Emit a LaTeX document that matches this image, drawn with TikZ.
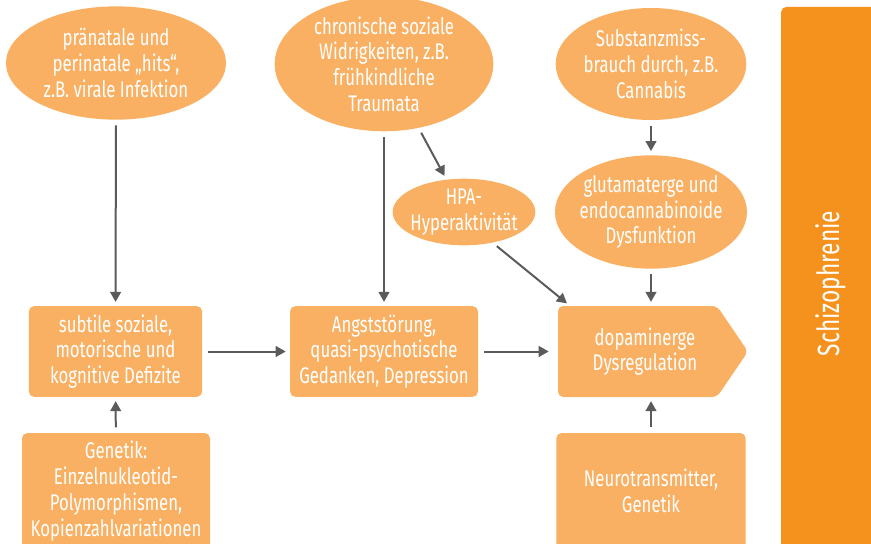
\documentclass[tikz,border=0pt]{standalone}
\usepackage{fontspec}
\setmainfont{Fira Sans}[FakeStretch=0.74]
\usetikzlibrary{arrows.meta, shapes.geometric}
\definecolor{lightorange}{HTML}{F9B062}
\definecolor{darkorange}{HTML}{F5921E}
\definecolor{arrowgray}{HTML}{5B5B5B}

\begin{document}
\begin{tikzpicture}[x=0.75pt, y=-0.75pt,
    bubble/.style={ellipse, fill=lightorange, text=white, inner sep=0pt, align=center,
        font=\fontsize{17}{19.3}\selectfont},
    box/.style={rectangle, rounded corners=4pt, fill=lightorange, text=white, inner sep=0pt,
        align=center, font=\fontsize{17}{19.3}\selectfont},
    arr/.style={-{Triangle[length=7.5pt, width=8pt]}, draw=arrowgray, line width=1.5pt,
        shorten <=4pt, shorten >=3pt}]
            \clip (0,0) rectangle (871,543);

            % Ursachen oben
            \node[bubble, minimum width=165pt, minimum height=85pt] (hits) at (116, 63)
                {pränatale und\\perinatale „hits“,\\z.B. virale Infektion};
            \node[bubble, minimum width=164pt, minimum height=95pt] (widrig) at (384, 64)
                {chronische soziale\\Widrigkeiten, z.B.\\frühkindliche\\Traumata};
            \node[bubble, minimum width=143pt, minimum height=84pt] (sucht) at (651, 64)
                {Substanzmiss-\\brauch durch, z.B.\\Cannabis};
            \node[bubble, inner xsep=-7pt, minimum width=107pt, minimum height=50pt] (hpa) at (464, 212)
                {HPA-\\Hyperaktivität};
            \node[bubble, inner xsep=-6pt, minimum width=144pt, minimum height=85pt] (glut) at (651, 212)
                {glutamaterge und\\endocannabinoide\\Dysfunktion};

            % mittlere Reihe
            \node[box, minimum width=130pt, minimum height=68pt] (defizit) at (115.5, 351.5)
                {subtile soziale,\\motorische und\\kognitive Defizite};
            \node[box, minimum width=141pt, minimum height=68pt] (angst) at (384, 351.5)
                {Angststörung,\\quasi-psychotische\\Gedanken, Depression};
            \fill[lightorange, rounded corners=4pt] (558,306) -- (717,306) -- (748,351.5)
                -- (717,397) -- (558,397) -- cycle;
            \node[align=center, text=white, inner sep=0pt, minimum width=130pt, minimum height=68pt,
                font=\fontsize{17}{19.3}\selectfont] (dopa) at (645, 351.5)
                {dopaminerge\\Dysregulation};

            % unten
            \node[box, minimum width=141pt, minimum height=87pt] (genetik) at (116, 491)
                {Genetik:\\Einzelnukleotid-\\Polymorphismen,\\Kopienzahlvariationen};
            \node[box, minimum width=142pt, minimum height=87pt] (neuro) at (651, 491)
                {Neurotransmitter,\\Genetik};

            % Balken rechts
            \node[fill=darkorange, rounded corners=4pt, rotate=90, text=white, inner sep=0pt,
                minimum width=415pt, minimum height=74pt, font=\fontsize{23}{25}\selectfont]
                (schizo) at (830.5, 283.5) {Schizophrenie};

            \draw[arr] (hits) -- (defizit);
            \draw[arr] (widrig) -- (angst);
            \draw[arr] (widrig) -- (hpa);
            \draw[arr] (hpa.-47) -- ([xshift=9pt]dopa.north west);
            \draw[arr] (sucht) -- (glut);
            \draw[arr] (glut.south) -- (glut.south |- dopa.north);
            \draw[arr] (defizit) -- (angst);
            \draw[arr] (angst) -- ([xshift=-4pt]dopa.west);
            \draw[arr] (genetik) -- (defizit);
            \draw[arr] (neuro.north) -- (neuro.north |- dopa.south);
        \end{tikzpicture}
\end{document}
